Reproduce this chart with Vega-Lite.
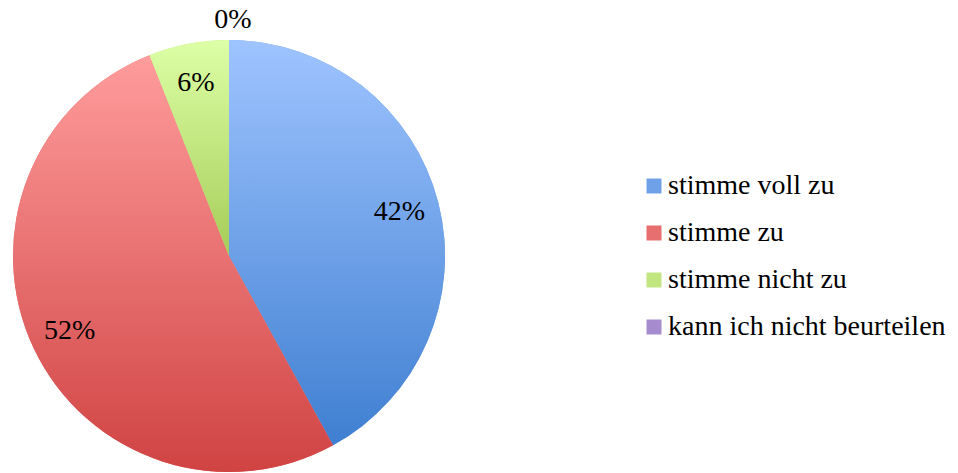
{
  "$schema": "https://vega.github.io/schema/vega-lite/v6.json",
  "width": 458,
  "height": 434,
  "padding": {"top": 6, "left": 0, "right": 0, "bottom": 0},
  "autosize": {"type": "pad"},
  "background": "white",
  "config": {"view": {"stroke": null}},
  "data": {"values": [
    {"kategorie": "stimme voll zu", "anteil": 42, "label": "42%", "reihe": 1},
    {"kategorie": "stimme zu", "anteil": 52, "label": "52%", "reihe": 2},
    {"kategorie": "stimme nicht zu", "anteil": 6, "label": "6%", "reihe": 3},
    {"kategorie": "kann ich nicht beurteilen", "anteil": 0, "label": "0%", "reihe": 4}
  ]},
  "transform": [
    {"stack": "anteil", "groupby": [], "sort": [{"field": "reihe", "order": "ascending"}], "as": ["s0", "s1"]},
    {"calculate": "(datum.s0 + datum.s1) / 2", "as": "mitte"}
  ],
  "encoding": {
    "theta": {"field": "s0", "type": "quantitative", "scale": {"domain": [0, 100]}},
    "theta2": {"field": "s1"}
  },
  "layer": [
    {
      "mark": {"type": "arc", "outerRadius": 216, "strokeWidth": 0},
      "encoding": {
        "color": {
          "field": "kategorie",
          "type": "nominal",
          "scale": {
            "domain": ["stimme voll zu", "stimme zu", "stimme nicht zu", "kann ich nicht beurteilen"],
            "range": ["#6fa1e8", "#e86f6f", "#c2e67f", "#a68bce"]
          },
          "legend": {
            "title": null,
            "orient": "none",
            "legendX": 640,
            "legendY": 133,
            "symbolType": "square",
            "symbolSize": 225,
            "symbolStrokeWidth": 0,
            "symbolOpacity": 1,
            "labelFont": "Liberation Serif",
            "labelFontSize": 28,
            "labelColor": "#000000",
            "labelOffset": 0,
            "rowPadding": 19,
            "padding": 0,
            "labelLimit": 400
          }
        }
      }
    },
    {
      "transform": [{"filter": "datum.kategorie == 'stimme voll zu'"}],
      "mark": {"type": "arc", "outerRadius": 216, "strokeWidth": 0,
        "fill": {"gradient": "linear", "x1": 0, "y1": 0, "x2": 0, "y2": 1, "stops": [{"offset": 0, "color": "#9fc4ff"}, {"offset": 1, "color": "#3f7fd1"}]}}
    },
    {
      "transform": [{"filter": "datum.kategorie == 'stimme zu'"}],
      "mark": {"type": "arc", "outerRadius": 216, "strokeWidth": 0,
        "fill": {"gradient": "linear", "x1": 0, "y1": 0, "x2": 0, "y2": 1, "stops": [{"offset": 0, "color": "#ff9c9c"}, {"offset": 1, "color": "#d04343"}]}}
    },
    {
      "transform": [{"filter": "datum.kategorie == 'stimme nicht zu'"}],
      "mark": {"type": "arc", "outerRadius": 216, "strokeWidth": 0,
        "fill": {"gradient": "linear", "x1": 0, "y1": 0, "x2": 0, "y2": 1, "stops": [{"offset": 0, "color": "#ddffa6"}, {"offset": 1, "color": "#a6cc58"}]}}
    },
    {
      "transform": [{"filter": "datum.anteil > 0"}],
      "mark": {"type": "text", "radius": 176, "font": "Liberation Serif", "fontSize": 28, "color": "#000000", "baseline": "middle", "align": "center"},
      "encoding": {
        "theta": {"field": "mitte", "type": "quantitative", "scale": {"domain": [0, 100]}},
        "theta2": null,
        "text": {"field": "label"}
      }
    },
    {
      "transform": [{"filter": "datum.anteil == 0"}],
      "mark": {"type": "text", "radius": 236, "font": "Liberation Serif", "fontSize": 28, "color": "#000000", "baseline": "middle", "align": "center", "dx": 4},
      "encoding": {
        "theta": {"field": "mitte", "type": "quantitative", "scale": {"domain": [0, 100]}},
        "theta2": null,
        "text": {"field": "label"}
      }
    }
  ]
}
